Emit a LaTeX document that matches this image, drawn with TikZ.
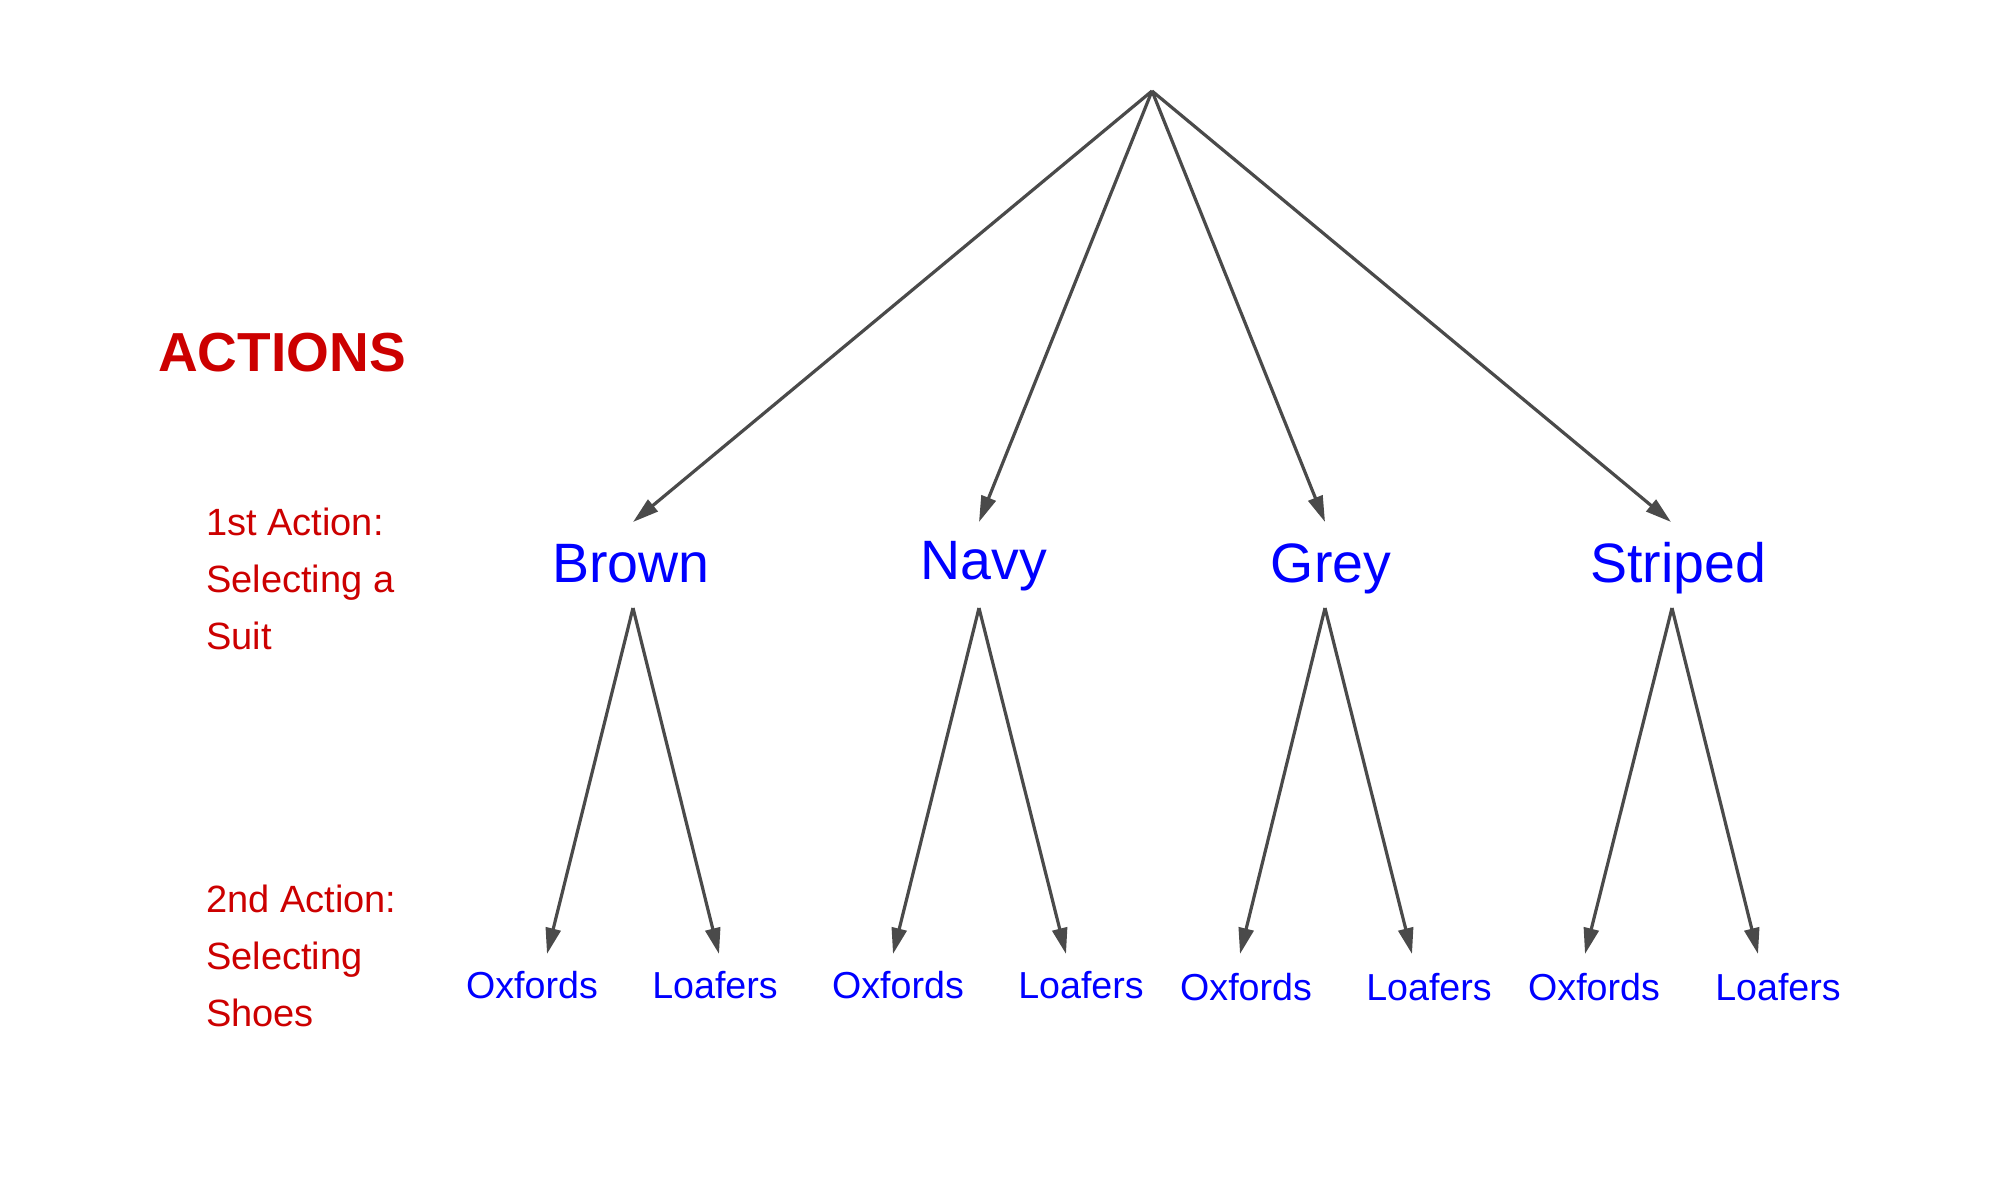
\documentclass[tikz,border=0pt]{standalone}
\usepackage{fontspec}
\setmainfont{Liberation Sans}
\usetikzlibrary{arrows.meta}
\definecolor{linegrey}{RGB}{74,74,74}
\definecolor{actred}{RGB}{204,0,0}
\definecolor{optblue}{RGB}{0,0,255}
\begin{document}
\begin{tikzpicture}[x=1pt,y=-1pt,
  conn/.style={draw=linegrey, line width=3.2pt, -{Triangle[length=26pt,width=15pt]}},
  suit/.style={text=optblue, inner sep=0pt, anchor=base, font=\fontsize{55.5}{55.5}\selectfont},
  shoe/.style={text=optblue, inner sep=0pt, anchor=base, font=\fontsize{37.6}{37.6}\selectfont},
  lbl/.style={text=actred, inner sep=0pt, anchor=base west, font=\fontsize{38}{38}\selectfont},
  ttl/.style={text=actred, inner sep=0pt, anchor=base west, font=\bfseries\fontsize{55}{55}\selectfont}]
\useasboundingbox (0,0) rectangle (1999,1182);

% titles
\node[ttl] (title) at (158,371) {ACTIONS};
\node[lbl] (a1l1) at (206,535) {1st Action:};
\node[lbl] (a1l2) at (206,592) {Selecting a};
\node[lbl] (a1l3) at (206,649) {Suit};
\node[lbl] (a2l1) at (206,912) {2nd Action:};
\node[lbl] (a2l2) at (206,969) {Selecting};
\node[lbl] (a2l3) at (206,1026) {Shoes};

% root
\coordinate (root) at (1152,91);

% suits
\node[suit] (brown) at (631,582) {Brown};
\node[suit] (navy) at (984,579) {Navy};
\node[suit] (grey) at (1331,582) {Grey};
\node[suit] (striped) at (1678,582) {Striped};

% arrow end points for suits
\coordinate (brownIn) at (633,522);
\coordinate (navyIn) at (979,522);
\coordinate (greyIn) at (1325,522);
\coordinate (stripedIn) at (1671,522);
\coordinate (brownOut) at (633,608);
\coordinate (navyOut) at (979,608);
\coordinate (greyOut) at (1325,608);
\coordinate (stripedOut) at (1672,608);

% shoes
\node[shoe] (ox1) at (532,998) {Oxfords};
\node[shoe] (lo1) at (715,998) {Loafers};
\node[shoe] (ox2) at (898,998) {Oxfords};
\node[shoe] (lo2) at (1081,998) {Loafers};
\node[shoe] (ox3) at (1246,1000) {Oxfords};
\node[shoe] (lo3) at (1429,1000) {Loafers};
\node[shoe] (ox4) at (1594,1000) {Oxfords};
\node[shoe] (lo4) at (1778,1000) {Loafers};

\coordinate (ox1In) at (547,954);
\coordinate (lo1In) at (719,954);
\coordinate (ox2In) at (893,954);
\coordinate (lo2In) at (1066,954);
\coordinate (ox3In) at (1240,954);
\coordinate (lo3In) at (1412,954);
\coordinate (ox4In) at (1585,954);
\coordinate (lo4In) at (1758,954);

% connectors
\draw[conn] (root) -- (brownIn);
\draw[conn] (root) -- (navyIn);
\draw[conn] (root) -- (greyIn);
\draw[conn] (root) -- (stripedIn);

\draw[conn] (brownOut) -- (ox1In);
\draw[conn] (brownOut) -- (lo1In);
\draw[conn] (navyOut) -- (ox2In);
\draw[conn] (navyOut) -- (lo2In);
\draw[conn] (greyOut) -- (ox3In);
\draw[conn] (greyOut) -- (lo3In);
\draw[conn] (stripedOut) -- (ox4In);
\draw[conn] (stripedOut) -- (lo4In);
\end{tikzpicture}
\end{document}
